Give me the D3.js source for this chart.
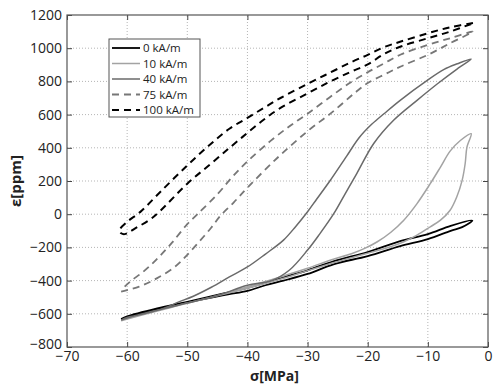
<!DOCTYPE html>
<html>
<head>
<meta charset="utf-8">
<script src="https://cdn.jsdelivr.net/npm/d3@7"></script>
<style>
  body { margin: 0; background: #fff; }
  text { font-family: "Open Sans", sans-serif; }
</style>
</head>
<body>
<div id="chart"></div>
<script>
// loops, [sigma MPa, strain ppm], in drawing order
let loop0 = [
	[-61, -632], [-58, -602], [-55, -574], [-52, -548], [-49, -524], [-46, -502], [-43, -482],
	[-40, -462], [-37, -428], [-34, -400], [-30, -360], [-25.7, -302], [-20, -252], [-14.6, -192],
	[-10, -150], [-6.2, -100], [-4.3, -78], [-2.6, -38],
	[-6.2, -70], [-10, -120], [-14.6, -162], [-20, -228], [-25.7, -284], [-30, -338], [-34, -380],
	[-40, -444], [-45, -486], [-50, -528], [-55, -568], [-60, -616], [-61, -632],
];
let loop10 = [
	[-61, -642], [-58, -612], [-55, -583], [-52, -555], [-49, -527], [-46, -500], [-43, -470],
	[-40, -438], [-37, -405], [-34, -372], [-30, -326], [-26, -274], [-22.7, -238], [-20.5, -206],
	[-18.4, -166], [-16.2, -110], [-14, -36], [-11.8, 64], [-9.6, 184], [-7.9, 284], [-6.3, 380],
	[-4.6, 444], [-2.8, 485],
	[-3.5, 404], [-3.8, 304], [-4.3, 204], [-5.2, 104], [-6.3, 24], [-7.9, -36], [-9.6, -76],
	[-11.8, -126], [-14, -166], [-16.2, -196], [-19.5, -230], [-22.7, -262], [-26, -296],
	[-30, -340], [-34, -386], [-40, -446], [-45, -492], [-50, -535], [-55, -580], [-60, -630], [-61, -642],
];
let loop40 = [
	[-61, -638], [-60, -622], [-57, -598], [-54, -568], [-51.5, -530], [-49, -494], [-46, -440],
	[-43, -378], [-40, -318], [-37, -240], [-34, -156], [-32, -75], [-30, 15], [-28.5, 90],
	[-26.3, 200], [-23.5, 350], [-21.4, 462], [-19.3, 543], [-17.3, 605], [-14.6, 686],
	[-10.1, 806], [-7.3, 872], [-5.1, 906], [-2.8, 935],
	[-5.1, 876], [-8.4, 786], [-11.8, 686], [-15.7, 566], [-19, 426], [-21.8, 246], [-23.8, 120],
	[-25.7, 0], [-28, -120], [-30, -216], [-33, -336], [-36, -400], [-40, -428], [-45, -490],
	[-50, -535], [-55, -578], [-60, -625], [-61, -638],
];
let loop75 = [
	[-61, -466], [-58, -436], [-55, -385], [-52, -315], [-50, -245], [-48, -165], [-46, -80],
	[-44.5, -10], [-42.3, 70], [-40, 160], [-35, 340], [-30, 500], [-26, 612], [-22, 735],
	[-20, 790], [-17.3, 840], [-14.5, 890], [-10, 960], [-6.3, 1030], [-2.5, 1100],
	[-6.3, 1060], [-10, 1020], [-14.5, 962], [-17.3, 908], [-20, 855], [-22.8, 795], [-26.3, 705],
	[-30, 605], [-33, 530], [-36.2, 440], [-40, 318], [-42.5, 225], [-45, 120], [-48.3, 0],
	[-50, -60], [-52.5, -170], [-54, -230], [-55.6, -290], [-57.3, -346], [-59.5, -406], [-61, -456],
];
let loop100 = [
	[-2.5, 1152], [-6.3, 1126], [-10, 1090], [-14.5, 1040], [-17.3, 1006], [-20, 960],
	[-22.8, 915], [-26.3, 852], [-30, 785], [-34.5, 700], [-37.2, 642], [-40, 580], [-43, 515],
	[-46.2, 420], [-50, 294], [-54.5, 134], [-57.8, 14], [-60, -46], [-61.3, -98], [-61, -115],
	[-60.4, -120], [-58.4, -80], [-56.2, -32], [-54.5, 20], [-50, 184], [-46.2, 300], [-42.8, 405],
	[-40, 490], [-37.2, 572], [-34.5, 640], [-30, 728], [-26.3, 798], [-22.8, 858], [-20, 902],
	[-17.3, 965], [-14.5, 1010], [-10, 1060], [-6.3, 1100], [-2.5, 1150],
];

let seriesNames = ["0 kA/m", "10 kA/m", "40 kA/m", "75 kA/m", "100 kA/m"];
let seriesData = [loop0, loop10, loop40, loop75, loop100];
let seriesColors = ["#000000", "#a3a3a3", "#6a6a6a", "#777777", "#000000"];
let seriesWidths = [1.8, 1.5, 1.5, 1.8, 2];
let seriesDash = [null, null, null, "7,5", "7,5"];

let xTicks = [-70, -60, -50, -40, -30, -20, -10, 0];
let yTicks = [-800, -600, -400, -200, 0, 200, 400, 600, 800, 1000, 1200];

let width = 500;
let height = 392;
let margins = { top: 15, right: 12, bottom: 45, left: 67 };

let svg = d3
	.select("#chart")
	.append("svg")
	.attr("width", width)
	.attr("height", height);

let x = d3.scaleLinear().domain([-70, 0]).range([margins.left, width - margins.right]);
let y = d3.scaleLinear().domain([-800, 1200]).range([height - margins.bottom, margins.top]);
let fmt = d3.format("d");

// dotted grid
svg.append("g")
	.selectAll("line")
	.data(xTicks.slice(1, -1))
	.enter()
	.append("line")
	.attr("x1", (d) => x(d))
	.attr("x2", (d) => x(d))
	.attr("y1", y(-800))
	.attr("y2", y(1200))
	.attr("stroke", "#b5b5b5")
	.attr("stroke-dasharray", "1,2");
svg.append("g")
	.selectAll("line")
	.data(yTicks.slice(1, -1))
	.enter()
	.append("line")
	.attr("y1", (d) => y(d))
	.attr("y2", (d) => y(d))
	.attr("x1", x(-70))
	.attr("x2", x(0))
	.attr("stroke", "#b5b5b5")
	.attr("stroke-dasharray", "1,2");

// axes, ticks pointing inwards, box on
function styleAxis(g) {
	g.select(".domain").remove();
	g.selectAll("line").attr("stroke", "#444");
	g.selectAll("text").attr("fill", "#222").style("font-size", "14px");
}
svg.append("g")
	.attr("transform", "translate(0," + y(-800) + ")")
	.call(d3.axisBottom(x).tickValues(xTicks).tickFormat(fmt).tickSizeInner(-5).tickPadding(4))
	.call(styleAxis);
let yAxis = svg.append("g")
	.attr("transform", "translate(" + x(-70) + ",0)")
	.call(d3.axisLeft(y).tickValues(yTicks).tickFormat(fmt).tickSizeInner(-5).tickPadding(5))
	.call(styleAxis);
// lift the bottom label a touch so it clears the x tick text
yAxis.selectAll("text").filter((d) => d === -800).attr("dy", "0.1em");
svg.append("g")
	.attr("transform", "translate(0," + y(1200) + ")")
	.call(d3.axisTop(x).tickValues(xTicks).tickSizeInner(-5).tickFormat(""))
	.call(styleAxis);
svg.append("g")
	.attr("transform", "translate(" + x(0) + ",0)")
	.call(d3.axisRight(y).tickValues(yTicks).tickSizeInner(-5).tickFormat(""))
	.call(styleAxis);

svg.append("rect")
	.attr("x", x(-70))
	.attr("y", y(1200))
	.attr("width", x(0) - x(-70))
	.attr("height", y(-800) - y(1200))
	.attr("fill", "none")
	.attr("stroke", "#555")
	.attr("stroke-width", 1.2);

// curves
let line = d3
	.line()
	.x((d) => x(d[0]))
	.y((d) => y(d[1]))
	.curve(d3.curveCatmullRom.alpha(0.5));

svg.append("g")
	.selectAll("path")
	.data(seriesData)
	.enter()
	.append("path")
	.attr("d", (d) => line(d))
	.attr("fill", "none")
	.attr("stroke", (d, i) => seriesColors[i])
	.attr("stroke-width", (d, i) => seriesWidths[i])
	.attr("stroke-dasharray", (d, i) => seriesDash[i])
	.attr("stroke-linejoin", "round");

// axis labels
svg.append("text")
	.attr("x", (x(-70) + x(0)) / 2 - 3)
	.attr("y", 381)
	.attr("text-anchor", "middle")
	.style("font-size", "14px")
	.style("font-weight", "bold")
	.attr("fill", "#222")
	.text("σ[MPa]");
svg.append("text")
	.attr("transform", "translate(21," + (y(1200) + y(-800)) / 2 + ") rotate(-90)")
	.attr("text-anchor", "middle")
	.style("font-size", "15px")
	.style("font-weight", "bold")
	.attr("fill", "#222")
	.text("ε[ppm]");

// legend
let legend = svg.append("g").attr("transform", "translate(109,39)");
legend.append("rect")
	.attr("width", 91)
	.attr("height", 78)
	.attr("fill", "#fff")
	.attr("stroke", "#555");
let rows = legend
	.selectAll("g.row")
	.data(seriesNames)
	.enter()
	.append("g")
	.attr("class", "row")
	.attr("transform", (d, i) => "translate(0," + (9 + i * 15.5) + ")");
rows.append("line")
	.attr("x1", 3)
	.attr("x2", 31)
	.attr("stroke", (d, i) => seriesColors[i])
	.attr("stroke-width", (d, i) => seriesWidths[i])
	.attr("stroke-dasharray", (d, i) => seriesDash[i]);
rows.append("text")
	.attr("x", 34)
	.attr("dy", "0.35em")
	.style("font-size", "11.5px")
	.attr("fill", "#222")
	.text((d) => d);
</script>
</body>
</html>
